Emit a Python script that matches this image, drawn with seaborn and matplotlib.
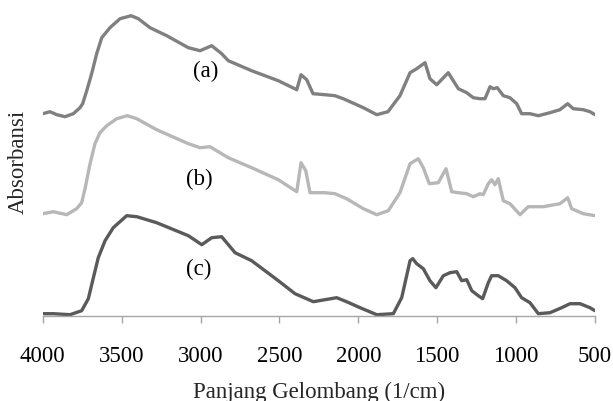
import numpy as np
import pandas as pd
import matplotlib
matplotlib.use("Agg")
import matplotlib.pyplot as plt
import seaborn as sns

# ---- data ----
wn_a = [4000, 3954, 3911, 3859, 3806, 3764, 3747, 3721, 3690, 3658, 3626, 3574, 3510, 3440,
        3394, 3320, 3214, 3077, 3003, 2929, 2866, 2824, 2676, 2507, 2390, 2363, 2327, 2287,
        2211, 2148, 2095, 1968, 1883, 1812, 1736, 1672, 1630, 1577, 1546, 1503, 1430, 1366,
        1313, 1271, 1229, 1197, 1165, 1145, 1119, 1081, 1039, 996, 965, 912, 859, 785, 722,
        673, 638, 574, 532, 500]
abs_a = [2.02, 2.04, 2.01, 1.99, 2.02, 2.08, 2.12, 2.25, 2.42, 2.62, 2.78, 2.88, 2.97, 3.00,
         2.97, 2.88, 2.80, 2.68, 2.65, 2.70, 2.62, 2.55, 2.45, 2.35, 2.26, 2.41, 2.36, 2.22,
         2.21, 2.20, 2.17, 2.08, 2.01, 2.04, 2.20, 2.43, 2.47, 2.53, 2.37, 2.31, 2.43, 2.27,
         2.23, 2.18, 2.17, 2.17, 2.29, 2.27, 2.28, 2.20, 2.18, 2.12, 2.02, 2.02, 2.00, 2.03,
         2.06, 2.12, 2.07, 2.06, 2.04, 2.01]

wn_b = [4000, 3933, 3848, 3785, 3753, 3732, 3700, 3669, 3637, 3594, 3531, 3464, 3404, 3278,
        3077, 3003, 2940, 2824, 2676, 2507, 2390, 2363, 2333, 2306, 2211, 2148, 2074, 1968,
        1883, 1810, 1736, 1672, 1620, 1588, 1550, 1493, 1444, 1408, 1366, 1313, 1271, 1229,
        1208, 1176, 1155, 1134, 1113, 1081, 1039, 975, 923, 828, 722, 673, 648, 574, 500]
abs_b = [1.02, 1.04, 1.01, 1.07, 1.13, 1.27, 1.52, 1.72, 1.83, 1.90, 1.97, 2.00, 1.97, 1.86,
         1.72, 1.68, 1.69, 1.58, 1.48, 1.36, 1.24, 1.53, 1.45, 1.23, 1.23, 1.22, 1.17, 1.07,
         1.01, 1.05, 1.23, 1.52, 1.57, 1.48, 1.32, 1.33, 1.47, 1.24, 1.23, 1.22, 1.19, 1.22,
         1.21, 1.32, 1.36, 1.31, 1.37, 1.15, 1.12, 1.01, 1.09, 1.09, 1.12, 1.18, 1.07, 1.02,
         1.00]

wn_c = [4000, 3933, 3827, 3753, 3711, 3679, 3648, 3605, 3553, 3468, 3404, 3278, 3077, 2992,
        2929, 2866, 2781, 2676, 2507, 2401, 2285, 2211, 2137, 2074, 1989, 1883, 1778, 1725,
        1672, 1655, 1630, 1588, 1546, 1508, 1461, 1419, 1376, 1345, 1313, 1281, 1240, 1212,
        1176, 1155, 1113, 1060, 1007, 965, 912, 859, 785, 711, 658, 595, 532, 500]
abs_c = [0.02, 0.02, 0.01, 0.05, 0.17, 0.38, 0.58, 0.75, 0.88, 1.00, 0.99, 0.93, 0.80, 0.71,
         0.78, 0.79, 0.63, 0.55, 0.35, 0.22, 0.14, 0.16, 0.18, 0.14, 0.08, 0.01, 0.02, 0.18,
         0.55, 0.57, 0.52, 0.47, 0.35, 0.28, 0.40, 0.43, 0.44, 0.35, 0.36, 0.25, 0.20, 0.17,
         0.33, 0.40, 0.40, 0.35, 0.28, 0.18, 0.13, 0.02, 0.03, 0.08, 0.12, 0.12, 0.08, 0.05]

series_names = ["(a)", "(b)", "(c)"]
series_colors = ["#808080", "#b7b7b7", "#5a5a5a"]
label_pos = [(2967, 2.45), (3010, 1.37), (3010, 0.47)]
x_ticks = [4000, 3500, 3000, 2500, 2000, 1500, 1000, 500]
x_label = "Panjang Gelombang (1/cm)"
y_label = "Absorbansi"

frames = []
for name, wn, ab in zip(series_names, [wn_a, wn_b, wn_c], [abs_a, abs_b, abs_c]):
    frames.append(pd.DataFrame({"wn": wn, "abs": ab, "series": name}))
df = pd.concat(frames, ignore_index=True)

sns.set_theme(style="white")
plt.rcParams["font.family"] = ["Liberation Serif", "DejaVu Serif"]

fig = plt.figure(figsize=(6.13, 4.02), dpi=100)
ax = fig.add_axes([0.0697, 0.2122, 0.9706 - 0.0697, 0.9833 - 0.2122])

sns.lineplot(data=df, x="wn", y="abs", hue="series", palette=series_colors,
             hue_order=series_names, sort=False, estimator=None, linewidth=2.4,
             legend=False, ax=ax)
for ln in ax.get_lines():
    ln.set_solid_joinstyle("round")
    ln.set_solid_capstyle("round")

for name, (lx, ly) in zip(series_names, label_pos):
    ax.text(lx, ly, name, ha="center", va="center", fontsize=16.5, color="black")

ax.set_xlim(4000, 500)
ax.set_ylim(0, 3.1)
ax.set_xticks(x_ticks)
ax.set_xticklabels([str(t) for t in x_ticks], fontsize=16.5)
ax.set_yticks([])
ax.set_xlabel(x_label, fontsize=16.5, labelpad=11)
ax.set_ylabel(y_label, fontsize=16.5, labelpad=10)

for s in ["left", "top", "right"]:
    ax.spines[s].set_visible(False)
ax.spines["bottom"].set_color("#a6a6a6")
ax.spines["bottom"].set_linewidth(1.0)
ax.tick_params(axis="x", direction="out", length=5, width=1.0, color="#a6a6a6",
               pad=16, bottom=True, labelcolor="black")

fig.savefig("out.png", dpi=100)
